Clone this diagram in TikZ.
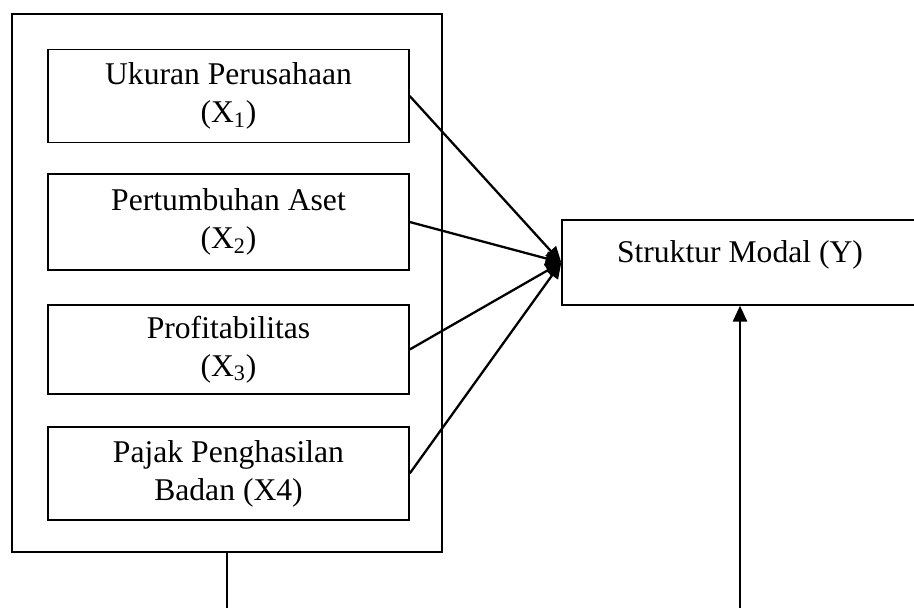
\documentclass[tikz,border=0pt]{standalone}
\usepackage{fontspec}
\setmainfont{Liberation Serif}
\usepackage{tikz}
\usetikzlibrary{positioning,arrows.meta,calc}

\begin{document}
\begin{tikzpicture}[
  varbox/.style={draw, line width=0.8pt, minimum width=7.22cm, minimum height=1.86cm, align=center, inner sep=0pt},
  link/.style={line width=1.3pt, -{Triangle[length=9pt, width=8pt]}},
  font=\fontsize{18}{21.5}\selectfont]
\useasboundingbox (0,0) rectangle (18.28,-12.16);

% Kerangka luar
\node[draw, line width=0.8pt, minimum width=8.6cm, minimum height=10.76cm] (frame) at (4.54,-5.66) {};

% Variabel independen
\node[varbox] (x1) at (4.57,-1.92) {Ukuran Perusahaan\\(X\textsubscript{1})};
\node[varbox, minimum height=1.92cm] (x2) at (4.57,-4.44) {Pertumbuhan Aset\\(X\textsubscript{2})};
\node[varbox, minimum height=1.78cm] (x3) at (4.57,-6.99) {Profitabilitas\\(X\textsubscript{3})};
\node[varbox] (x4) at (4.57,-9.47) {Pajak Penghasilan\\Badan (X4)};

% Variabel dependen
\node[draw, line width=0.8pt, minimum width=7.12cm, minimum height=1.7cm, text depth=0.45cm] (y) at (14.8,-5.25) {Struktur Modal (Y)};

% Panah
\draw[link] (x1.east) -- (y.west);
\draw[link] (x2.east) -- (y.west);
\draw[link] (x3.east) -- (y.west);
\draw[link] (x4.east) -- (y.west);

% Garis bawah
\coordinate (bl) at (4.54,-12.16);
\coordinate (br) at (14.8,-12.16);
\draw[line width=0.8pt] (frame.south) -- (bl);
\draw[link] (br) -- (y.south);
\end{tikzpicture}
\end{document}
